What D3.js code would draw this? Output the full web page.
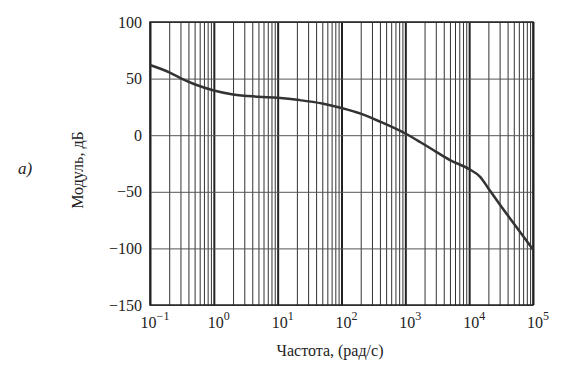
<!DOCTYPE html>
<html>
<head>
<meta charset="utf-8">
<script src="https://cdn.jsdelivr.net/npm/d3@7"></script>
<style>
  body { margin: 0; background: #fff; }
  svg text { font-family: "Liberation Serif", "DejaVu Serif", serif; fill: #222; }
</style>
</head>
<body>
<div id="chart"></div>
<script>
// data
let freq = [0.1, 0.2, 0.3, 0.5, 1, 2, 5, 10, 22, 50, 100, 200, 400, 1000, 1700, 3000, 5000, 10000, 15000, 20000, 30000, 50000, 100000]
let gainDb = [62, 55.5, 50.5, 45, 39.5, 36, 34, 33, 31, 28, 24, 19, 12, 1.5, -6, -14.5, -22, -30, -37, -47, -61, -78, -101]

let decadeExps = [-1, 0, 1, 2, 3, 4, 5]
let yTicks = [100, 50, 0, -50, -100, -150]

let width = 570,
    height = 371

let plot = { left: 150, right: 533, top: 22, bottom: 305 }

let svg = d3.select("#chart")
    .append("svg")
    .attr("width", width)
    .attr("height", height)

let xScale = d3.scaleLog()
    .domain([0.1, 1e5])
    .range([plot.left, plot.right])

let yScale = d3.scaleLinear()
    .domain([-150, 100])
    .range([plot.bottom, plot.top])

// minor vertical grid: 2..9 in every decade
let minorTicks = []
decadeExps.slice(0, -1).forEach(function (e) {
    for (let k = 2; k <= 9; k++) minorTicks.push(k * Math.pow(10, e))
})
let decades = decadeExps.map(function (e) { return Math.pow(10, e) })

svg.append("g")
    .attr("transform", "translate(0," + plot.bottom + ")")
    .call(d3.axisBottom(xScale).tickValues(minorTicks).tickSize(-(plot.bottom - plot.top)).tickFormat(""))
    .call(function (g) {
        g.select(".domain").remove()
        g.selectAll("line").attr("stroke", "#333").attr("stroke-width", 1)
    })

svg.append("g")
    .attr("transform", "translate(0," + plot.bottom + ")")
    .call(d3.axisBottom(xScale).tickValues(decades).tickSize(-(plot.bottom - plot.top)).tickFormat(""))
    .call(function (g) {
        g.select(".domain").remove()
        g.selectAll("line").attr("stroke", "#222").attr("stroke-width", 2)
    })

// horizontal grid + y labels
svg.append("g")
    .attr("transform", "translate(" + plot.left + ",0)")
    .call(d3.axisLeft(yScale).tickValues(yTicks).tickSize(-(plot.right - plot.left)).tickPadding(8)
        .tickFormat(function (d) { return d < 0 ? "\u2212" + (-d) : d }))
    .call(function (g) {
        g.select(".domain").remove()
        g.selectAll("line").attr("stroke", "#555").attr("stroke-width", 1)
        g.selectAll("text").attr("font-size", 16).attr("fill", "#222")
            .attr("font-family", "Liberation Serif, serif")
    })

// frame
svg.append("rect")
    .attr("x", plot.left)
    .attr("y", plot.top)
    .attr("width", plot.right - plot.left)
    .attr("height", plot.bottom - plot.top)
    .attr("fill", "none")
    .attr("stroke", "#222")
    .attr("stroke-width", 1.5)

// x tick labels 10^n
let xLabels = svg.append("g")
    .selectAll("text")
    .data(decadeExps)
    .enter()
    .append("text")
    .attr("x", function (d) { return xScale(Math.pow(10, d)) + 5 })
    .attr("y", plot.bottom + 23)
    .attr("text-anchor", "middle")
    .attr("font-size", 16)

xLabels.append("tspan").text("10")
xLabels.append("tspan")
    .attr("dy", -8)
    .attr("font-size", 12)
    .text(function (d) { return d < 0 ? "\u2212" + (-d) : d })

// curve
let line = d3.line()
    .x(function (d, i) { return xScale(freq[i]) })
    .y(function (d) { return yScale(d) })
    .curve(d3.curveMonotoneX)

svg.append("path")
    .datum(gainDb)
    .attr("d", line)
    .attr("fill", "none")
    .attr("stroke", "#333")
    .attr("stroke-width", 2.5)

// titles
svg.append("text")
    .attr("x", 330)
    .attr("y", 356)
    .attr("text-anchor", "middle")
    .attr("font-size", 16)
    .text("Частота, (рад/с)")

svg.append("text")
    .attr("transform", "translate(83,170) rotate(-90)")
    .attr("text-anchor", "middle")
    .attr("font-size", 16)
    .text("Модуль, дБ")

svg.append("text")
    .attr("x", 25)
    .attr("y", 174)
    .attr("text-anchor", "middle")
    .attr("font-size", 17)
    .attr("font-style", "italic")
    .text("а)")
</script>
</body>
</html>
